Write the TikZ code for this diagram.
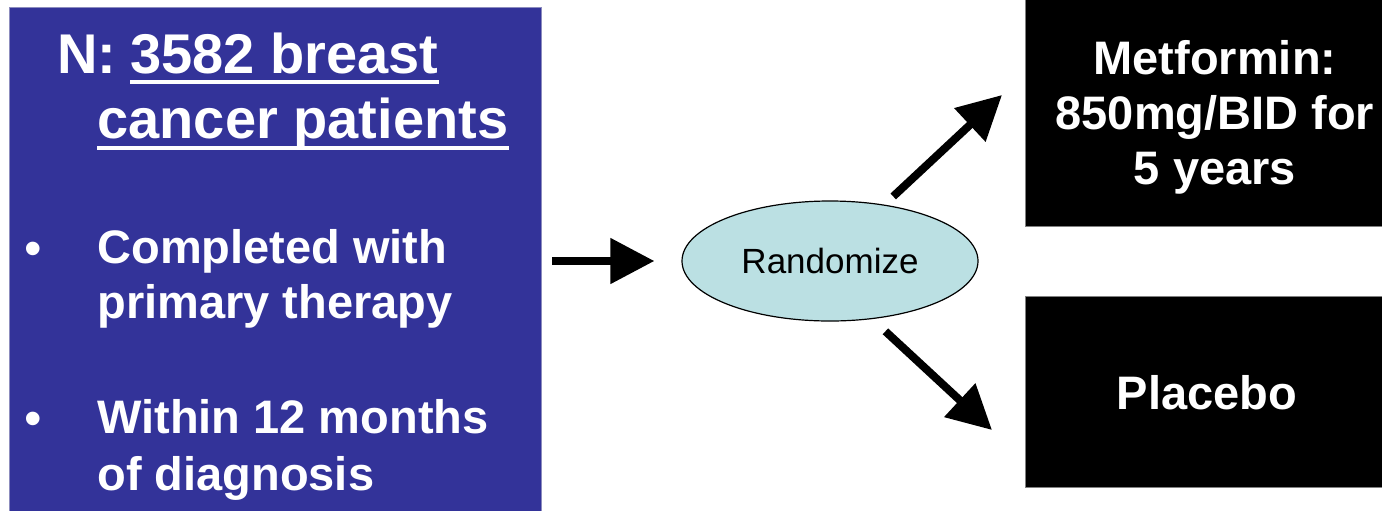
\documentclass[tikz,border=0pt]{standalone}
\usepackage{fontspec}
\setmainfont{Liberation Sans}
\usetikzlibrary{shapes.geometric,arrows.meta}
\definecolor{popblue}{HTML}{333399}
\definecolor{popedge}{RGB}{140,140,190}
\definecolor{randcyan}{RGB}{187,224,227}
\begin{document}
\begin{tikzpicture}[x=0.5pt, y=-0.5pt,
    poptext/.style={anchor=base west, inner sep=0, text=white, font=\bfseries\fontsize{23.5}{28}\selectfont},
    titletext/.style={poptext, font=\bfseries\fontsize{28}{33}\selectfont},
    bullet/.style={anchor=base, inner sep=0, text=white, font=\fontsize{25}{30}\selectfont},
    armbox/.style={rectangle, fill=black, draw=gray, line width=0.5pt, inner sep=0, minimum width=187.5pt},
    armtext/.style={inner sep=0, text=white, align=center, font=\bfseries\fontsize{23.5}{27.5}\selectfont},
    bigarrow/.style={line width=4pt, -{Triangle[length=22pt,width=22pt]}}]
    \useasboundingbox (0,0) rectangle (1382,510);

    % Draw population box
    \node[rectangle, fill=popblue, draw=popedge, line width=0.5pt, inner sep=0,
          anchor=north west, minimum width=266pt, minimum height=257pt] (pop) at (9,7) {};
    \node[titletext] (ntag) at (57,73) {N:};
    \node[titletext] (title1) at (130,73) {3582 breast};
    \node[titletext] (title2) at (97,138) {cancer patients};
    \draw[white, line width=2pt] ([yshift=-4.25pt]title1.base west) -- ([yshift=-4.25pt]title1.base east);
    \draw[white, line width=2pt] ([yshift=-4.75pt]title2.base west) -- ([yshift=-4.75pt]title2.base east);

    % Draw criteria
    \node[bullet] (bul1) at (33,265) {•};
    \node[poptext] (comp1) at (97,263) {Completed with};
    \node[poptext] (comp2) at (97,318) {primary therapy};
    \node[bullet] (bul2) at (33,435) {•};
    \node[poptext] (with1) at (97,433) {Within 12 months};
    \node[poptext] (with2) at (97,490) {of diagnosis};

    % Draw randomization
    \node[ellipse, fill=randcyan, draw, line width=0.6pt, inner sep=0,
          minimum width=148pt, minimum height=60pt,
          font=\fontsize{17.5}{21}\selectfont] (rand) at (830,261) {Randomize};

    % Draw arms
    \node[armbox, minimum height=118pt] (metf) at (1212.5,108) {};
    \node[armtext] (metftext) at (1215,117) {Metformin:\\850mg/BID for\\5 years};
    \node[armbox, minimum height=95.5pt] (plac) at (1212.5,391.5) {};
    \node[armtext] (plactext) at (1207,393) {Placebo};

    % Draw arrows
    \coordinate (metftip) at (1002,95);
    \coordinate (plactip) at (992,430);
    \draw[bigarrow, shorten <=5pt, shorten >=13.5pt] (pop.east |- rand) -- (rand.west);
    \draw[bigarrow, shorten <=6pt] (rand.46) -- (metftip);
    \draw[bigarrow, shorten <=9pt] (rand.-54) -- (plactip);
\end{tikzpicture}
\end{document}
